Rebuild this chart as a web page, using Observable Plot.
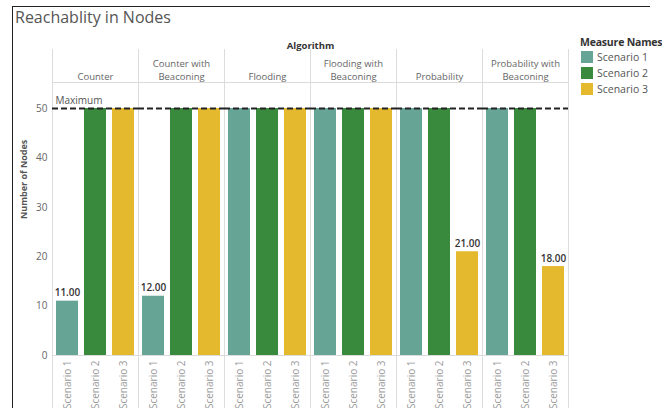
<!DOCTYPE html>
<html><head><meta charset="utf-8">
<script src="https://cdn.jsdelivr.net/npm/d3@7"></script>
<script src="https://cdn.jsdelivr.net/npm/@observablehq/plot@0.6"></script>
<style>
body{margin:0;background:#fff;font-family:"Open Sans",sans-serif;overflow:hidden}
#wrap{position:relative;width:662px;height:408px;overflow:hidden}
#border{position:absolute;left:12px;top:6px;width:637px;height:420px;border-left:1.5px solid #222;border-top:1.5px solid #222}
#title{position:absolute;left:15px;top:6px;line-height:22px;font-size:16px;color:#555;white-space:nowrap}
#chart{position:absolute;left:0;top:0}
#legend{position:absolute;left:580px;top:35px;white-space:nowrap}
#legend .h{font-size:10.5px;font-weight:bold;color:#333;line-height:14px;letter-spacing:-0.2px}
#legend .r{display:flex;align-items:center;height:16px;font-size:10.5px;color:#555}
#legend .s{width:12px;height:12px;margin:0 4px 0 1px}
</style></head>
<body><div id="wrap"><div id="border"></div><div id="chart"></div><div id="title">Reachablity in Nodes</div><div id="legend"></div></div>
<script>
const algorithms = ["Counter", "Counter with Beaconing", "Flooding", "Flooding with Beaconing", "Probability", "Probability with Beaconing"];
const scenarios = ["Scenario 1", "Scenario 2", "Scenario 3"];
const scenario1 = [11, 12, 50, 50, 50, 50];
const scenario2 = [50, 50, 50, 50, 50, 50];
const scenario3 = [50, 50, 50, 50, 21, 18];
const yTicks = [0, 10, 20, 30, 40, 50];
const maximum = 50;
const colors = ["#66a596", "#3a8a3d", "#e4b92e"];

const series = [scenario1, scenario2, scenario3];
const rows = [];
algorithms.forEach((a, i) => {
  series.forEach((s, j) => rows.push({algorithm: a, scenario: scenarios[j], value: s[i]}));
});
const labelled = rows.filter(d => d.value < maximum);

const font = "'Open Sans', sans-serif";
const chart = Plot.plot({
  width: 662, height: 408,
  marginLeft: 50, marginRight: 92, marginTop: 49, marginBottom: 0,
  style: {fontFamily: font, background: "transparent", overflow: "visible"},
  fx: {domain: algorithms, padding: 0, axis: null, label: null},
  x: {domain: scenarios, paddingInner: 0.23, paddingOuter: 0.13, axis: null, label: null},
  y: {domain: [0, 50], range: [355, 108]},
  color: {domain: scenarios, range: colors},
  marks: [
    Plot.frame({anchor: "left", stroke: "#dcdcdc"}),
    Plot.frame({anchor: "right", stroke: "#dcdcdc"}),
    Plot.ruleY([maximum], {dy: -26, stroke: "#dcdcdc"}),
    Plot.ruleY([0], {stroke: "#dcdcdc"}),
    Plot.barY(rows, {fx: "algorithm", x: "scenario", y: "value", fill: "scenario"}),
    Plot.ruleY([maximum], {stroke: "#222", strokeWidth: 2, strokeDasharray: "6,3"}),
    Plot.axisY(yTicks, {tickSize: 0, tickPadding: 5, fontSize: 10, fill: "#666", label: null}),
    Plot.text(algorithms, {fx: d => d, text: d => d.replace(" with ", " with\n"), frameAnchor: "top", dy: 30, lineAnchor: "bottom", fontSize: 9.5, fill: "#666", lineHeight: 1.35}),
    Plot.text(["Algorithm"], {fx: () => algorithms[2], frameAnchor: "top-right", textAnchor: "middle", dy: -7, fontWeight: "bold", fontSize: 9.5, fill: "#333"}),
    Plot.text(["Number of Nodes"], {fx: () => algorithms[0], frameAnchor: "left", dx: -28, dy: -10, rotate: -90, fontWeight: "bold", fontSize: 9, fill: "#555"}),
    Plot.text(["Maximum"], {fx: () => algorithms[0], y: () => maximum, frameAnchor: "left", dx: 3, dy: -8, textAnchor: "start", fontSize: 10, fill: "#555"}),
    Plot.text(labelled, {fx: "algorithm", x: "scenario", y: "value", text: d => d.value.toFixed(2), dy: -8, fontWeight: 600, fontSize: 10, fill: "#333"}),
    Plot.text(rows, {fx: "algorithm", x: "scenario", y: () => 0, text: "scenario", rotate: -90, textAnchor: "end", dy: 5, fontSize: 10, fill: "#9a9a9a"})
  ]
});
document.getElementById("chart").append(chart);

const lg = document.getElementById("legend");
lg.innerHTML = '<div class="h">Measure Names</div>' + scenarios.map((s, i) =>
  `<div class="r"><div class="s" style="background:${colors[i]}"></div>${s}</div>`).join("");
</script>
</body></html>
